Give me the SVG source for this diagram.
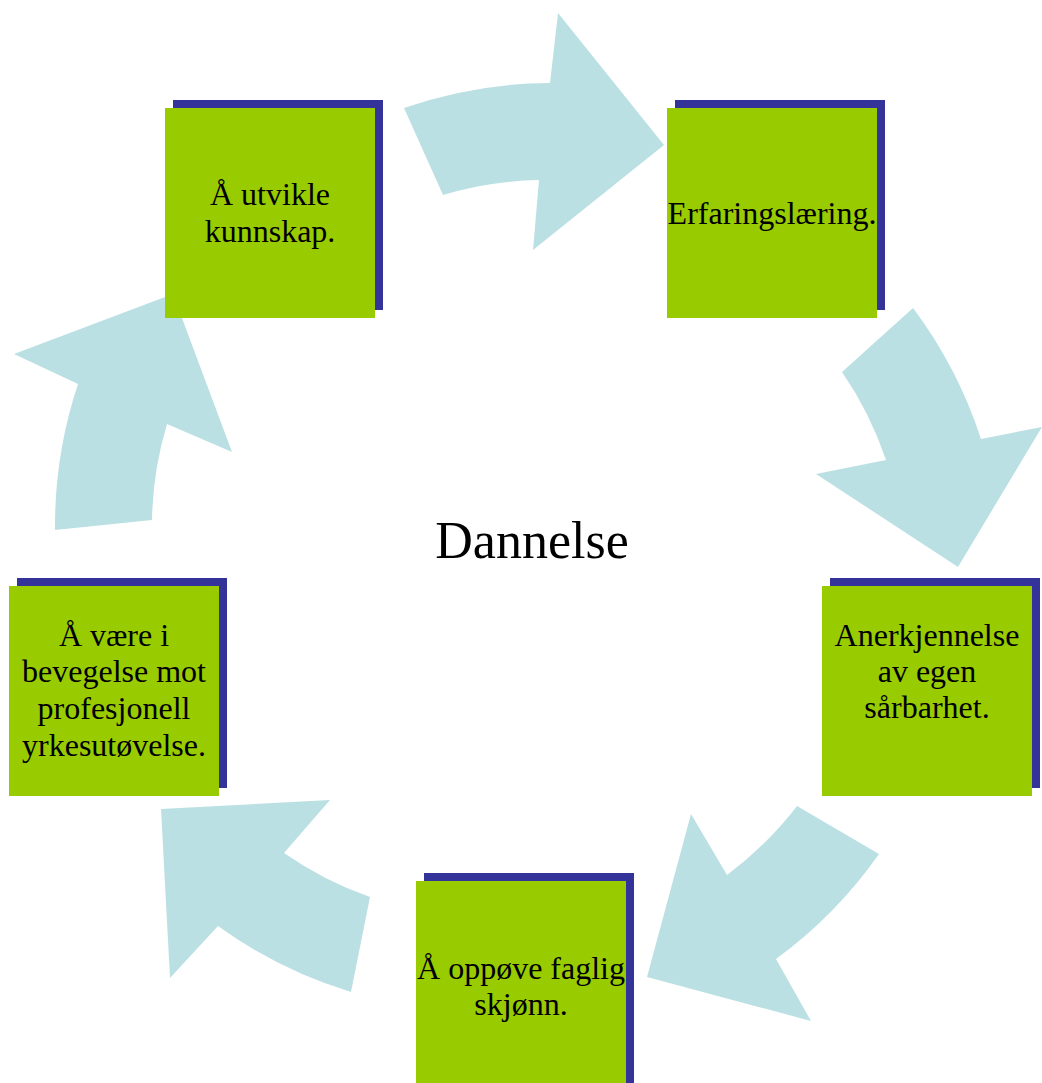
<svg xmlns="http://www.w3.org/2000/svg" width="1042" height="1083" viewBox="0 0 1042 1083">
<style>
.arrow{fill:#BBE0E3;stroke:none}
.shadow{fill:#333399}
.box{fill:#99CC00}
.lbl{font-family:"Liberation Serif","Times New Roman",serif;font-size:32px;fill:#000;text-anchor:middle}
.title{font-family:"Liberation Serif","Times New Roman",serif;font-size:52px;fill:#000;text-anchor:middle}
</style>
<rect width="1042" height="1083" fill="#fff"/>
<g id="connectors">
<path class="arrow" d="M404,108 A450,450 0 0 1 550,83 L558,13 L664,145 L533,250 L539,180 A355,355 0 0 0 443,195 Z"/>
<path class="arrow" d="M913,308 A450,450 0 0 1 981,439 L1042,427 L958,567 L816,474 L886,460 A355,355 0 0 0 842,372 Z"/>
<path class="arrow" d="M797,806 A355,355 0 0 1 727,875 L691,814 L647,977 L811,1021 L776,959 A450,450 0 0 0 879,854 Z"/>
<path class="arrow" d="M161,809 L330,800 L284,853 A355,355 0 0 0 370,897 L351,992 A450,450 0 0 1 218,926 L170,978 Z"/>
<path class="arrow" d="M55,530 A450,450 0 0 1 78,384 L14,354 L173,294 L232,452 L167,424 A355,355 0 0 0 152,520 Z"/>
</g>
<g id="node-utvikle">
<rect class="shadow" x="173" y="100" width="210" height="210"/>
<rect class="box" x="165" y="108" width="210" height="210"/>
<text class="lbl" x="270" y="205">Å utvikle</text>
<text class="lbl" x="270" y="242">kunnskap.</text>
</g>
<g id="node-erfaring">
<rect class="shadow" x="675" y="100" width="210" height="210"/>
<rect class="box" x="667" y="108" width="210" height="210"/>
<text class="lbl" x="772" y="224">Erfaringslæring.</text>
</g>
<g id="node-anerkjennelse">
<rect class="shadow" x="830" y="578" width="210" height="210"/>
<rect class="box" x="822" y="586" width="210" height="210"/>
<text class="lbl" x="927" y="646">Anerkjennelse</text>
<text class="lbl" x="927" y="682">av egen</text>
<text class="lbl" x="927" y="718">sårbarhet.</text>
</g>
<g id="node-oppove">
<rect class="shadow" x="424" y="873" width="210" height="210"/>
<rect class="box" x="416" y="881" width="210" height="210"/>
<text class="lbl" x="521" y="979">Å oppøve faglig</text>
<text class="lbl" x="521" y="1015">skjønn.</text>
</g>
<g id="node-vaere">
<rect class="shadow" x="17" y="578" width="210" height="210"/>
<rect class="box" x="9" y="586" width="210" height="210"/>
<text class="lbl" x="114" y="646">Å være i</text>
<text class="lbl" x="114" y="682">bevegelse mot</text>
<text class="lbl" x="114" y="719">profesjonell</text>
<text class="lbl" x="114" y="756">yrkesutøvelse.</text>
</g>
<g id="center">
<text class="title" x="532" y="558">Dannelse</text>
</g>
</svg>
